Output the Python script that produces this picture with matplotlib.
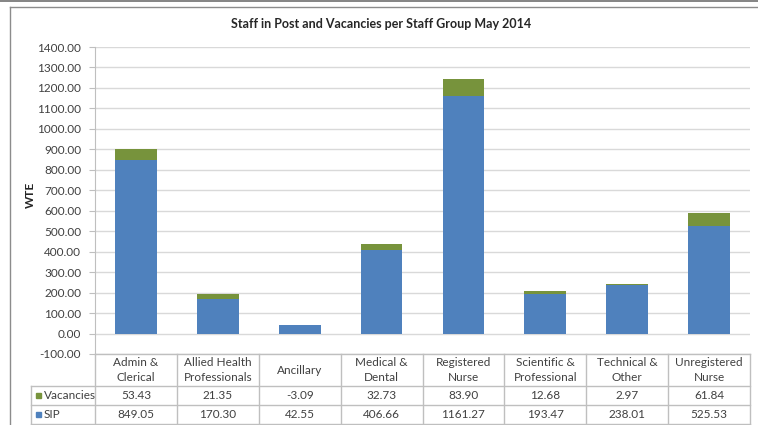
import numpy as np
import matplotlib
matplotlib.use("Agg")
from matplotlib import pyplot as plt
from matplotlib.transforms import blended_transform_factory
from matplotlib.lines import Line2D
from matplotlib.patches import Rectangle

categories = ["Admin &\nClerical", "Allied Health\nProfessionals", "Ancillary",
              "Medical &\nDental", "Registered\nNurse", "Scientific &\nProfessional",
              "Technical &\nOther", "Unregistered\nNurse"]
vacancies = [53.43, 21.35, -3.09, 32.73, 83.90, 12.68, 2.97, 61.84]
sip = [849.05, 170.30, 42.55, 406.66, 1161.27, 193.47, 238.01, 525.53]
series_names = ["Vacancies", "SIP"]
yticks = np.arange(-100, 1401, 100)

BLUE = "#4F81BD"
GREEN = "#77933C"
GRID = "#D9D9D9"
TXT = "#404040"

plt.rcParams['font.family'] = ['Lato', 'DejaVu Sans']

W, H = 758, 425
fig = plt.figure(figsize=(W / 100, H / 100), dpi=100)


def fx(px):
    return px / W


def fy(py):
    return 1 - py / H


# outer frame (only top and left edges fall inside the picture)
fig.add_artist(Line2D([0, 1], [fy(0.5), fy(0.5)], transform=fig.transFigure, color="#707070", lw=1.2))
fig.add_artist(Line2D([fx(10), 1], [fy(7), fy(7)], transform=fig.transFigure, color="#8C8C8C", lw=1))
fig.add_artist(Line2D([fx(10), fx(10)], [fy(7), 0], transform=fig.transFigure, color="#8C8C8C", lw=1))

left, right, top, bottom = 95, 750, 47, 354
ax = fig.add_axes([fx(left), fy(bottom), fx(right) - fx(left), fy(top) - fy(bottom)])

x = np.arange(len(categories))
sip_a = np.array(sip)
vac_a = np.array(vacancies)
ax.bar(x, sip_a, width=0.51, color=BLUE, zorder=3)
ax.bar(x, vac_a, width=0.51, bottom=np.where(vac_a >= 0, sip_a, 0), color=GREEN, zorder=3)

ax.set_xlim(-0.5, len(categories) - 0.5)
ax.set_ylim(-100, 1400)
ax.set_yticks(yticks)
ax.set_yticklabels(["%.2f" % v for v in yticks], color=TXT, fontsize=8.5)
ax.set_xticks([])
ax.grid(axis="y", color=GRID, lw=1, zorder=0)
for s in ["top", "right", "bottom"]:
    ax.spines[s].set_visible(False)
ax.spines["left"].set_color("#BFBFBF")
ax.tick_params(axis="y", length=4, color="#BFBFBF", pad=6)

fig.text(fx(381), fy(24), "Staff in Post and Vacancies per Staff Group May 2014",
         ha="center", va="center", fontsize=9, fontweight="bold", color="#262626")
fig.text(fx(30), fy(195), "WTE", rotation=90, ha="center", va="center",
         fontsize=8.5, fontweight="bold", color="#262626")

# data table under the chart
tr = blended_transform_factory(ax.transData, fig.transFigure)
LINE = "#BFBFBF"
row_y = [354, 386, 405, 424]
lab_left = -0.5 - (left - 31) / ((right - left) / len(categories))
n = len(categories)
for i in range(n + 1):
    fig.add_artist(Line2D([i - 0.5, i - 0.5], [fy(row_y[0]), fy(row_y[-1])],
                          transform=tr, color=LINE, lw=1))
fig.add_artist(Line2D([lab_left, lab_left], [fy(row_y[1]), fy(row_y[-1])],
                      transform=tr, color=LINE, lw=1))
fig.add_artist(Line2D([-0.5, n - 0.5], [fy(row_y[0]), fy(row_y[0])], transform=tr, color=LINE, lw=1))
for yy in row_y[1:]:
    fig.add_artist(Line2D([lab_left, n - 0.5], [fy(yy), fy(yy)], transform=tr, color=LINE, lw=1))

for i, c in enumerate(categories):
    fig.text(i, fy((row_y[0] + row_y[1]) / 2), c, transform=tr, ha="center", va="center",
             fontsize=8.5, color=TXT, linespacing=1.35)
    fig.text(i, fy((row_y[1] + row_y[2]) / 2), "%.2f" % vacancies[i], transform=tr,
             ha="center", va="center", fontsize=8.5, color=TXT)
    fig.text(i, fy((row_y[2] + row_y[3]) / 2), "%.2f" % sip[i], transform=tr,
             ha="center", va="center", fontsize=8.5, color=TXT)

for name, col, r in zip(series_names, [GREEN, BLUE], [1, 2]):
    cy = (row_y[r] + row_y[r + 1]) / 2
    fig.add_artist(Rectangle((fx(36), fy(cy + 2.5)), fx(5), fy(cy - 2.5) - fy(cy + 2.5),
                             transform=fig.transFigure, color=col))
    fig.text(fx(43.5), fy(cy), name, ha="left", va="center", fontsize=8.5, color=TXT)

fig.savefig("out.png", dpi=100)
